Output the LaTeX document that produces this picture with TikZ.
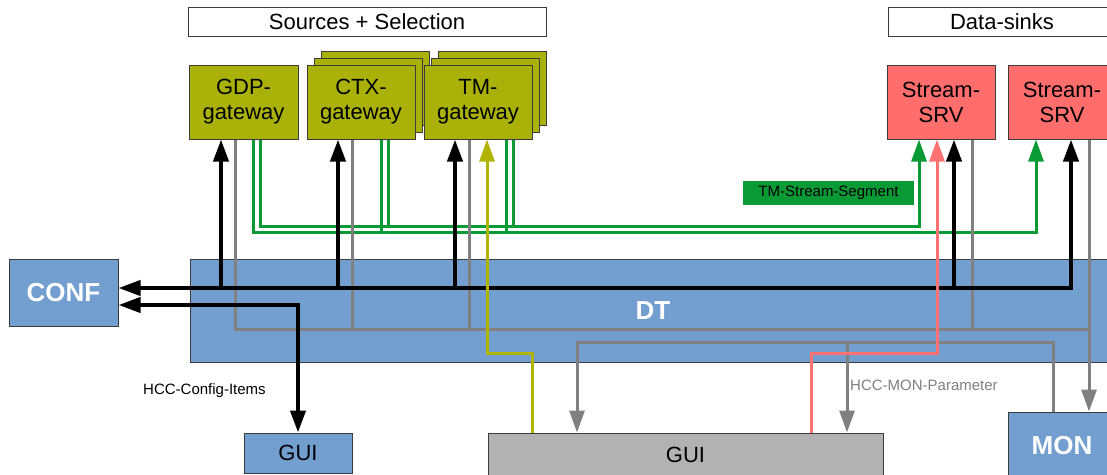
\documentclass[tikz,border=0pt]{standalone}
\usepackage{fontspec}
\setmainfont{Liberation Sans}
\usetikzlibrary{arrows.meta}

\definecolor{boxolive}{HTML}{AAB20A}
\definecolor{boxblue}{HTML}{729FCF}
\definecolor{boxred}{HTML}{FF6D6D}
\definecolor{boxgray}{HTML}{B2B2B2}
\definecolor{edge}{HTML}{3C3C3C}
\definecolor{lgreen}{HTML}{0A9A35}
\definecolor{lgray}{HTML}{808080}
\definecolor{lolive}{HTML}{B0B400}
\definecolor{lred}{HTML}{FF7272}

\tikzset{
  >={Triangle[length=22pt,width=15pt]},
  box/.style={draw=edge, line width=1pt, inner sep=0pt, minimum width=108pt,
    minimum height=74pt, align=center, font=\fontsize{22}{25}\selectfont},
  gatewaybox/.style={box, fill=boxolive},
  sinkbox/.style={box, fill=boxred},
  titlebox/.style={draw=edge, line width=1pt, fill=white, inner sep=0pt,
    minimum height=29pt, font=\fontsize{22}{25}\selectfont},
  bluebox/.style={draw=edge, line width=1pt, fill=boxblue, inner sep=0pt,
    text=white, font=\bfseries\fontsize{26}{30}\selectfont},
  guibox/.style={draw=edge, line width=1pt, inner sep=0pt,
    font=\fontsize{22}{25}\selectfont},
  blk/.style={line width=4pt, black},
  gry/.style={line width=3pt, lgray},
  grn/.style={line width=3pt, lgreen},
  olv/.style={line width=3pt, lolive},
  pnk/.style={line width=3pt, lred},
  lbl/.style={inner sep=0pt, anchor=west, font=\fontsize{15}{18}\selectfont},
}

\begin{document}
\begin{tikzpicture}[x=1pt,y=-1pt]
\useasboundingbox (0,0) rectangle (1107,474);
\fill[white] (0,0) rectangle (1107,474);
\clip (0,0) rectangle (1107,474);

% group titles
\node[titlebox, minimum width=358pt] (srcTitle) at (367,21.5) {Sources + Selection};
\node[titlebox, minimum width=228pt] (sinkTitle) at (1002,21.5) {Data-sinks};

% data transport and peripheral blocks
\node[bluebox, minimum width=926pt, minimum height=103pt] (dt) at (653,310.5) {DT};
\node[bluebox, minimum width=109pt, minimum height=67pt] (conf) at (63.5,292.5) {CONF};
\node[bluebox, minimum width=108pt, minimum height=68pt] (mon) at (1062,446) {MON};
\node[guibox, fill=boxblue, minimum width=108pt, minimum height=40pt] (guiA) at (298,453) {GUI};
\node[guibox, fill=boxgray, minimum width=395pt, minimum height=43pt] (guiB) at (685.5,454.5) {GUI};

% sources (stacked instances drawn back to front)
\node[gatewaybox, minimum width=109pt] (gdp) at (243.5,102) {GDP-\\gateway};
\node[gatewaybox] (ctxC) at (375,88) {};
\node[gatewaybox] (ctxB) at (368,95) {};
\node[gatewaybox] (ctx) at (361,102) {CTX-\\gateway};
\node[gatewaybox] (tmC) at (492,88) {};
\node[gatewaybox] (tmB) at (485,95) {};
\node[gatewaybox] (tm) at (478,102) {TM-\\gateway};

% sinks
\node[sinkbox] (srv1) at (941,102) {Stream-\\SRV};
\node[sinkbox] (srv2) at (1062,102) {Stream-\\SRV};

% connector columns
\coordinate (kG) at (221,0);  \coordinate (kC) at (338,0);
\coordinate (kT) at (455,0);  \coordinate (kS1) at (954,0);
\coordinate (kS2) at (1071,0);
\coordinate (gG) at (235,0);  \coordinate (gC) at (352,0);
\coordinate (gT) at (469,0);  \coordinate (gS1) at (972,0);
\coordinate (gS2) at (1089,0); \coordinate (gMon) at (1053,0);
\coordinate (gGa) at (577,0); \coordinate (gGb) at (847,0);
\coordinate (oA) at (532,0);  \coordinate (oB) at (487,0);
\coordinate (pA) at (811,0);  \coordinate (pB) at (937,0);
\coordinate (nG) at (253,0);  \coordinate (nC) at (381,0);
\coordinate (nT) at (506,0);  \coordinate (nS2) at (1036,0);
\coordinate (mG) at (260,0);  \coordinate (mC) at (388,0);
\coordinate (mT) at (513,0);  \coordinate (mS1) at (919,0);
% connector rows
\coordinate (rK) at (0,288);   \coordinate (rCfg) at (0,305);
\coordinate (rG1) at (0,329);  \coordinate (rG2) at (0,342);
\coordinate (rGui) at (0,353);
\coordinate (rNlo) at (0,232.5); \coordinate (rNup) at (0,226.5);

% stream segments (green)
\draw[grn,->] (nG |- gdp.south) |- (nS2 |- rNlo) -- (nS2 |- srv2.south);
\draw[grn,->] (mG |- gdp.south) |- (mS1 |- rNup) -- (mS1 |- srv1.south);
\draw[grn] (nC |- ctx.south) -- (nC |- rNlo);
\draw[grn] (nT |- tm.south) -- (nT |- rNlo);
\draw[grn] (mC |- ctx.south) -- (mC |- rNup);
\draw[grn] (mT |- tm.south) -- (mT |- rNup);

% monitoring (gray)
\draw[gry] (gG |- gdp.south) |- (gS2 |- rG1);
\draw[gry] (gC |- ctx.south) -- (gC |- rG1);
\draw[gry] (gT |- tm.south) -- (gT |- rG1);
\draw[gry] (gS1 |- srv1.south) -- (gS1 |- rG1);
\draw[gry,->] (gS2 |- srv2.south) -- (gS2 |- mon.north);
\draw[gry,->] (gMon |- mon.north) |- (gGa |- rG2) -- (gGa |- guiB.north);
\draw[gry,->] (gGb |- rG2) -- (gGb |- guiB.north);

% configuration (black)
\draw[blk,<->] (kS2 |- srv2.south) |- (conf.east |- rK);
\draw[blk,->] (kG |- rK) -- (kG |- gdp.south);
\draw[blk,->] (kC |- rK) -- (kC |- ctx.south);
\draw[blk,->] (kT |- rK) -- (kT |- tm.south);
\draw[blk,->] (kS1 |- rK) -- (kS1 |- srv1.south);
\draw[blk,<->] (conf.east |- rCfg) -| (guiA.north);

% GUI control paths
\draw[olv,->] (oA |- guiB.north) |- (oB |- rGui) -- (oB |- tm.south);
\draw[pnk,->] (pA |- guiB.north) |- (pB |- rGui) -- (pB |- srv1.south);

% labels
\node[inner sep=0pt, fill=lgreen, minimum width=171pt, minimum height=24pt,
  font=\fontsize{15}{18}\selectfont] (seg) at (828.5,193) {TM-Stream-Segment};
\node[lbl] (cfgLbl) at (143,391) {HCC-Config-Items};
\node[lbl, text=lgray] (monLbl) at (850,385) {HCC-MON-Parameter};
\end{tikzpicture}
\end{document}
